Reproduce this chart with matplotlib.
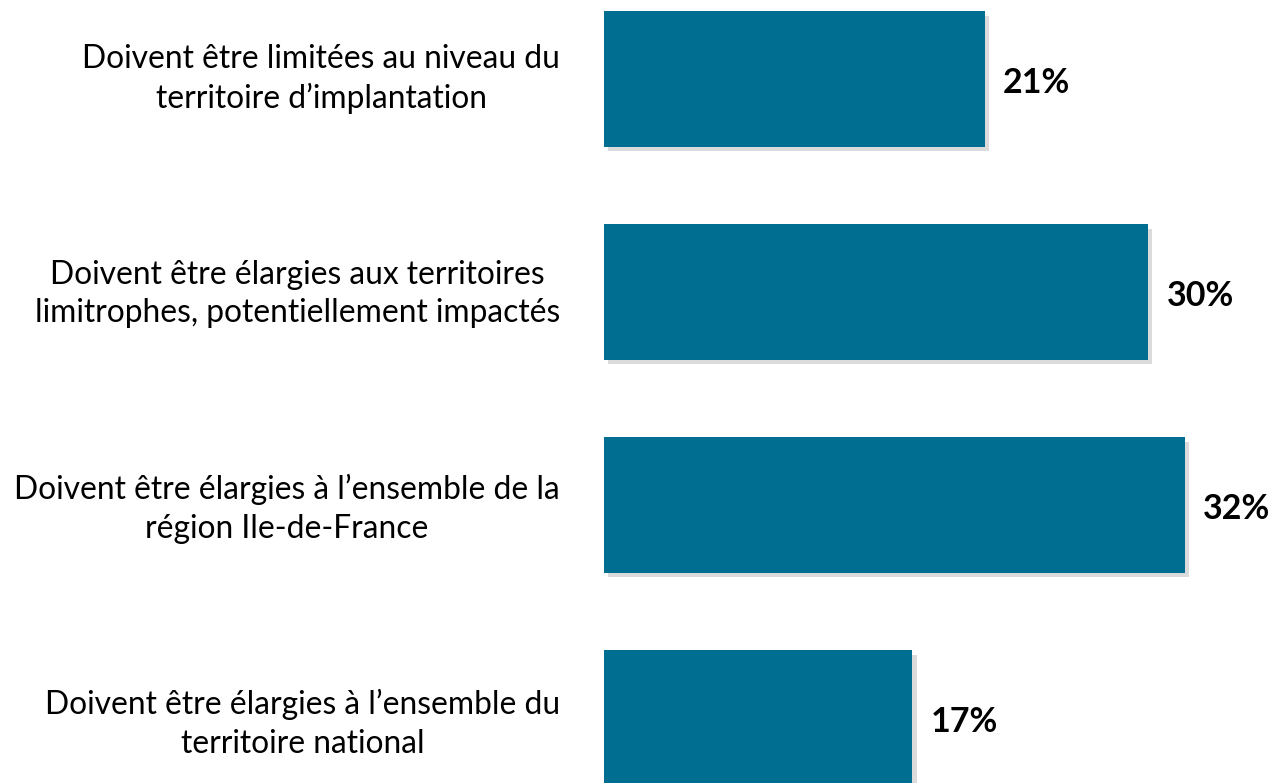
import matplotlib.pyplot as plt
import matplotlib.patheffects as pe

labels = [
    "Doivent être limitées au niveau du\nterritoire d\u2019implantation",
    "Doivent être élargies aux territoires\nlimitrophes, potentiellement impactés",
    "Doivent être élargies à l\u2019ensemble de la\nrégion Ile-de-France",
    "Doivent être élargies à l\u2019ensemble du\nterritoire national",
]
values = [21, 30, 32, 17]

plt.rcParams['font.family'] = ['Lato', 'DejaVu Sans']

fig = plt.figure(figsize=(12.74, 7.83), dpi=100)
ax = fig.add_axes([604 / 1274, 0, 670 / 1274, 1])

ypos = list(range(len(values)))
bars = ax.barh(ypos, values, height=0.635, color='#006E90')
for b in bars:
    b.set_path_effects([pe.SimplePatchShadow(offset=(3, -3), shadow_rgbFace='#888888', alpha=0.3),
                        pe.Normal()])

ax.set_xlim(0, 36.93)
ax.set_ylim(3.305, -0.371)
ax.axis('off')

for y, v in zip(ypos, values):
    ax.text(v + 1.0, y + 0.02, f"{v}%", ha='left', va='center',
            fontsize=24.5, fontweight='bold', color='black')

# category labels to the left of the bars
for y, lab in zip(ypos, labels):
    fig.text(560 / 1274, 1 - (79 + 215 * y) / 783, lab, ha='right', va='center',
             multialignment='center', fontsize=22.9, color='black', linespacing=1.36)

fig.savefig('out.png', dpi=100)
